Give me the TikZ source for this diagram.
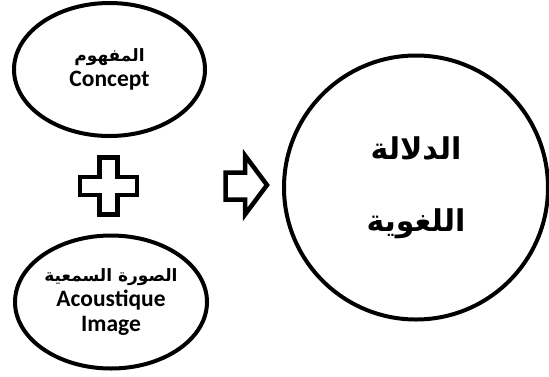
\documentclass[tikz,border=0pt]{standalone}
\usepackage{fontspec}
\setmainfont{Carlito}
\newfontfamily\arabicfont[Script=Arabic]{DejaVu Sans}
\TeXXeTstate=1
\usetikzlibrary{shapes.geometric}
\begin{document}
\begin{tikzpicture}[x=1pt,y=-1pt,
  oval/.style={ellipse, draw, line width=4pt, inner sep=0pt, align=center,
    font=\bfseries\fontsize{23.5}{25}\selectfont},
  bigcircle/.style={circle, draw, line width=4pt, inner sep=0pt, align=center,
    font=\bfseries\arabicfont\fontsize{30}{36}\selectfont},
  symb/.style={draw, line width=4.5pt, line join=miter},
]
\useasboundingbox (0,0) rectangle (549,376);
\node[oval, minimum width=191pt, minimum height=133pt] (concept) at (109.5,69.5)
  {{\arabicfont\fontsize{17}{20}\selectfont\beginR المفهوم\endR}\\
   Concept};
\node[oval, minimum width=192pt, minimum height=133pt] (image) at (111,302)
  {{\arabicfont\fontsize{17}{20}\selectfont\beginR الصورة السمعية\endR}\\
   Acoustique\\
   Image};
\node[bigcircle, minimum size=264pt] (meaning) at (416,187.5)
  {\beginR الدلالة\endR\\[36pt]
   \beginR اللغوية\endR};
% plus sign
\draw[symb] (99.5,157.5) -- (117.5,157.5) -- (117.5,177) -- (137,177) -- (137,195)
  -- (117.5,195) -- (117.5,214.5) -- (99.5,214.5) -- (99.5,195) -- (80,195)
  -- (80,177) -- (99.5,177) -- cycle;
% outline arrow
\draw[symb] (225.5,172.5) -- (245,172.5) -- (245,155.5) -- (267,185)
  -- (245,214.5) -- (245,199.5) -- (225.5,199.5) -- cycle;
\end{tikzpicture}
\end{document}
